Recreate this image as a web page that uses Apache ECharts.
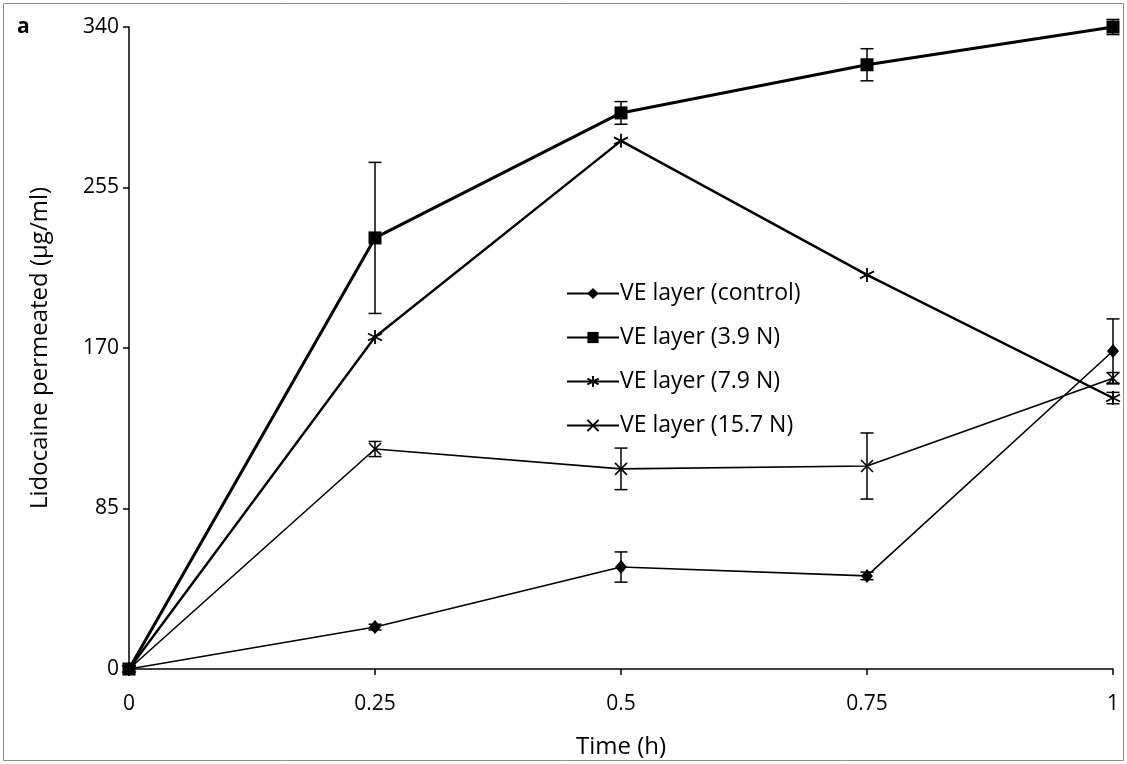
<!DOCTYPE html>
<html><head><meta charset="utf-8">
<script src="https://cdn.jsdelivr.net/npm/echarts@6/dist/echarts.min.js"></script>
<style>html,body{margin:0;padding:0;background:#fff}#c{width:1127px;height:764px}</style>
</head><body><div id="c"></div>
<script>
var times = [0, 0.25, 0.5, 0.75, 1];
var seriesNames = ['VE layer (control)', 'VE layer (3.9 N)', 'VE layer (7.9 N)', 'VE layer (15.7 N)'];
var control = [0, 22.2, 54, 49.3, 168.4];
var controlErr = [0, 1.5, 8, 2, 17];
var n39 = [0, 228.3, 294.5, 320, 340];
var n39Err = [0, 40, 6, 8.5, 4];
var n79 = [0, 175.8, 279.7, 208.7, 143.5];
var n79Err = [0, 0, 0, 0, 3];
var n157 = [0, 116.5, 106, 107.5, 154];
var n157Err = [0, 4, 11, 17.5, 3];
var yTicks = [0, 85, 170, 255, 340];

var FONT = 'Open Sans';
var asterisk = 'path://M0,-10L0,10M-8.66,-5L8.66,5M-8.66,5L8.66,-5';
var cross = 'path://M-7,-7L7,7M-7,7L7,-7';

function pairs(v){ return times.map(function(t,i){ return [t, v[i]]; }); }
function errData(v, e){ return times.map(function(t,i){ return [t, v[i]-e[i], v[i]+e[i]]; }).filter(function(d){return d[2]-d[1]>0;}); }
function errSeries(v, e, w){
  return {
    type:'custom', silent:true, z:1,
    data: errData(v,e),
    renderItem: function(params, api){
      var lo = api.coord([api.value(0), api.value(1)]);
      var hi = api.coord([api.value(0), api.value(2)]);
      var cw = 6.5;
      var st = {stroke:'#000', lineWidth: w};
      return {type:'group', children:[
        {type:'line', shape:{x1:lo[0],y1:lo[1],x2:hi[0],y2:hi[1]}, style:st},
        {type:'line', shape:{x1:lo[0]-cw,y1:lo[1],x2:lo[0]+cw,y2:lo[1]}, style:st},
        {type:'line', shape:{x1:hi[0]-cw,y1:hi[1],x2:hi[0]+cw,y2:hi[1]}, style:st}
      ]};
    }
  };
}

var chart = echarts.init(document.getElementById('c'), null, {renderer:'canvas'});
chart.setOption({
  animation:false,
  backgroundColor:'#fff',
  textStyle:{fontFamily:FONT},
  grid:{left:129, right:14, top:27, bottom:95, containLabel:false},
  graphic:[
    {type:'rect', shape:{x:3.5,y:3.5,width:1120,height:757}, style:{fill:null, stroke:'#8c8c8c', lineWidth:1}, silent:true, z:-1},
    {type:'text', left:17, top:17, style:{text:'a', font:'bold 21px "'+FONT+'"', fill:'#000'}}
  ],
  legend:{
    orient:'vertical', left:561, top:277, itemWidth:52, itemHeight:14, itemGap:21,
    data:seriesNames,
    textStyle:{fontFamily:FONT, fontSize:23, color:'#000', padding:[0,0,0,-4]},
    selectedMode:false
  },
  xAxis:{
    type:'value', min:0, max:1, interval:0.25,
    name:'Time (h)', nameLocation:'middle', nameGap:66,
    nameTextStyle:{fontFamily:FONT, fontSize:24, color:'#000'},
    axisLine:{lineStyle:{color:'#000', width:1.5}},
    axisTick:{show:true, inside:false, length:6, lineStyle:{color:'#000', width:1.5}},
    axisLabel:{fontFamily:FONT, fontSize:21, color:'#000', margin:25},
    splitLine:{show:false}
  },
  yAxis:{
    type:'value', min:0, max:340, interval:85,
    name:'Lidocaine permeated (\u00b5g/ml)', nameLocation:'middle', nameGap:77, nameRotate:90,
    nameTextStyle:{fontFamily:FONT, fontSize:24, color:'#000'},
    axisLine:{show:true, lineStyle:{color:'#000', width:1.5}},
    axisTick:{show:true, inside:false, length:6, lineStyle:{color:'#000', width:1.5}},
    axisLabel:{fontFamily:FONT, fontSize:21, color:'#000', margin:10,
      formatter:function(v){ return yTicks.indexOf(v)>=0 ? String(v) : ''; }},
    splitLine:{show:false}
  },
  series:[
    errSeries(control, controlErr, 1.5),
    errSeries(n39, n39Err, 1.5),
    errSeries(n79, n79Err, 1.5),
    errSeries(n157, n157Err, 1.5),
    {name:seriesNames[0], type:'line', data:pairs(control), symbol:'diamond', symbolSize:[12,14], z:3,
      lineStyle:{color:'#000', width:1.6}, itemStyle:{color:'#000'}},
    {name:seriesNames[1], type:'line', data:pairs(n39), symbol:'rect', symbolSize:13, z:3,
      lineStyle:{color:'#000', width:3}, itemStyle:{color:'#000'}},
    {name:seriesNames[2], type:'line', data:pairs(n79), symbol:asterisk, symbolSize:14, z:3,
      lineStyle:{color:'#000', width:2.4}, itemStyle:{color:'#000', borderColor:'#000', borderWidth:1.8}},
    {name:seriesNames[3], type:'line', data:pairs(n157), symbol:cross, symbolSize:12, z:3,
      lineStyle:{color:'#000', width:1.6}, itemStyle:{color:'#000', borderColor:'#000', borderWidth:1.6}}
  ]
});
</script></body></html>
